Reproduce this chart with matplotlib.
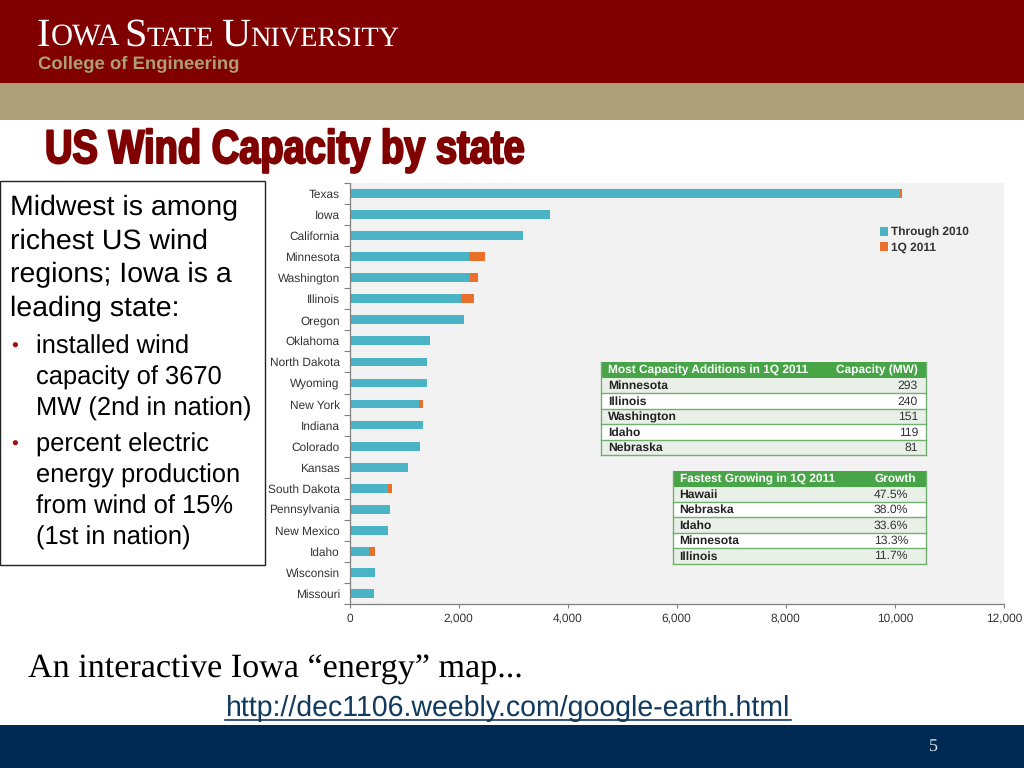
import matplotlib
matplotlib.use("Agg")
import matplotlib.pyplot as plt
import matplotlib.patheffects as pe
from matplotlib.patches import Rectangle
from matplotlib.transforms import Affine2D
import numpy as np

states = ["Texas", "Iowa", "California", "Minnesota", "Washington", "Illinois", "Oregon",
          "Oklahoma", "North Dakota", "Wyoming", "New York", "Indiana", "Colorado", "Kansas",
          "South Dakota", "Pennsylvania", "New Mexico", "Idaho", "Wisconsin", "Missouri"]
through_2010 = [10085, 3670, 3177, 2192, 2204, 2045, 2104, 1482, 1424, 1412,
                1274, 1339, 1299, 1074, 709, 748, 700, 353, 469, 457]
q1_2011 = [52, 0, 0, 293, 151, 240, 0, 0, 0, 0, 74, 0, 0, 0, 75, 0, 0, 119, 0, 0]

x_ticks = [0, 2000, 4000, 6000, 8000, 10000, 12000]

table1_head = ["Most Capacity Additions in 1Q 2011", "Capacity (MW)"]
table1_names = ["Minnesota", "Illinois", "Washington", "Idaho", "Nebraska"]
table1_vals = ["293", "240", "151", "119", "81"]

table2_head = ["Fastest Growing in 1Q 2011", "Growth"]
table2_names = ["Hawaii", "Nebraska", "Idaho", "Minnesota", "Illinois"]
table2_vals = ["47.5%", "38.0%", "33.6%", "13.3%", "11.7%"]

intro_lines = ["Midwest is among", "richest US wind", "regions; Iowa is a", "leading state:"]
bullet1_lines = ["installed wind", "capacity of 3670", "MW (2nd in nation)"]
bullet2_lines = ["percent electric", "energy production", "from wind of 15%", "(1st in nation)"]

RED = "#800000"
TAN = "#AD9F78"
NAVY = "#002A54"
TEAL = "#4BB3C6"
ORANGE = "#E8702A"
GREEN = "#47A447"
LINE = "#6FB26F"
ROW = "#E9F0E7"

plt.rcParams["font.family"] = ["Liberation Sans", "DejaVu Sans"]
plt.rcParams["text.hinting"] = "no_hinting"


class Squeeze(pe.AbstractPathEffect):
    # no condensed heavy font here, so squash the title sideways
    def __init__(self, sx, x0, lw, color):
        super().__init__()
        self.squeeze = Affine2D().translate(-x0, 0).scale(sx, 1).translate(x0, 0)
        self.lw = lw
        self.color = color

    def draw_path(self, renderer, gc, tpath, affine, rgbFace=None):
        gc0 = renderer.new_gc()
        gc0.copy_properties(gc)
        gc0.set_foreground(self.color)
        gc0.set_linewidth(self.lw)
        renderer.draw_path(gc0, tpath, affine + self.squeeze, rgbFace)
        gc0.restore()


fig = plt.figure(figsize=(10.24, 7.68), dpi=100, facecolor="white")

# slide furniture, in pixel coords
bg = fig.add_axes([0, 0, 1, 1], zorder=0)
bg.set_xlim(0, 1024)
bg.set_ylim(768, 0)
bg.axis("off")
bg.add_patch(Rectangle((0, 0), 1024, 83, fc=RED, ec="none"))
bg.add_patch(Rectangle((0, 83), 1024, 37, fc=TAN, ec="none"))
bg.add_patch(Rectangle((0, 725), 1024, 43, fc=NAVY, ec="none"))

# small caps wordmark
for x, s, size in [(37, "I", 29), (50.5, "OWA", 22), (124, "S", 29), (146.5, "TATE", 20.5),
                   (221, "U", 29), (250, "NIVERSITY", 20.3)]:
    bg.text(x, 45.5, s, color="white", fontsize=size, family="Liberation Serif", va="baseline")
bg.text(38, 68, "College of Engineering", color=TAN, fontsize=13.3, weight="bold", va="baseline")

bg.text(45, 163, "US Wind Capacity by state", color=RED, fontsize=34, weight="bold", va="baseline",
        path_effects=[Squeeze(0.806, 45, 1.5, RED)])

# left text box
bg.add_patch(Rectangle((0, 180.5), 265, 384.5, fc="white", ec="#222222", lw=1))
for y, s in zip([215, 249, 282, 316], intro_lines):
    bg.text(10, y, s, fontsize=20.5, color="black", va="baseline")
for y, s in zip([354, 385, 416], bullet1_lines):
    bg.text(36, y, s, fontsize=18.4, color="black", va="baseline")
for y, s in zip([452, 483, 514, 545], bullet2_lines):
    bg.text(36, y, s, fontsize=18.4, color="black", va="baseline")
for y in [352, 450]:
    bg.text(11, y, "•", fontsize=14, color="#A01010", va="baseline")

bg.text(28, 677, "An interactive Iowa “energy” map...", fontsize=24.6, family="Liberation Serif",
        color="black", va="baseline")
bg.text(225, 716, "http://dec1106.weebly.com/google-earth.html", fontsize=20.55, color="#123A5E",
        va="baseline")
bg.plot([225, 791], [720, 720], color="#123A5E", lw=1.2)
bg.text(933, 751, "5", fontsize=13, family="Liberation Serif", color="#DDE5EC", ha="center",
        va="baseline")

# chart
ax = fig.add_axes([349.5 / 1024, 1 - 604 / 768, 654.5 / 1024, 421 / 768], zorder=1)
ax.set_facecolor("#F2F2F2")
y = np.arange(len(states))
ax.barh(y, through_2010, height=0.42, color=TEAL, label="Through 2010")
ax.barh(y, q1_2011, left=through_2010, height=0.42, color=ORANGE, label="1Q 2011")
ax.set_xlim(0, 12000)
ax.set_ylim(len(states) - 0.5, -0.5)
ax.set_yticks(y)
ax.set_yticklabels(states, fontsize=8.6, color="#333333")
ax.set_yticks(np.arange(len(states) + 1) - 0.5, minor=True)
ax.tick_params(axis="y", which="major", length=0, pad=7)
ax.tick_params(axis="y", which="minor", length=4, color="#808080", width=0.8)
ax.set_xticks(x_ticks)
ax.set_xticklabels([f"{v:,}" for v in x_ticks], fontsize=8.6, color="#333333")
ax.tick_params(axis="x", length=3, color="#808080", width=0.8, pad=3.5)
for side in ["top", "right"]:
    ax.spines[side].set_visible(False)
for side in ["left", "bottom"]:
    ax.spines[side].set_color("#808080")
    ax.spines[side].set_linewidth(0.9)
leg = ax.legend(loc="upper left", bbox_to_anchor=(880 / 1024, 1 - 227 / 768),
                bbox_transform=fig.transFigure, frameon=False, fontsize=8.6, handlelength=0.7,
                handleheight=0.7, handletextpad=0.25, labelspacing=0.3, borderpad=0, borderaxespad=0)
for t in leg.get_texts():
    t.set_color("#333333")
    t.set_weight("bold")

top_ax = fig.add_axes([0, 0, 1, 1], zorder=2)
top_ax.set_xlim(0, 1024)
top_ax.set_ylim(768, 0)
top_ax.axis("off")


def draw_table(x0, x1, top, head_h, row_h, head, names, vals, head_x, val_x):
    top_ax.add_patch(Rectangle((x0, top), x1 - x0, head_h, fc=GREEN, ec="none"))
    top_ax.text(x0 + 7, top + head_h / 2 + 0.5, head[0], color="white", fontsize=8.6, weight="bold",
                va="center")
    top_ax.text(head_x, top + head_h / 2 + 0.5, head[1], color="white", fontsize=8.6, weight="bold",
                va="center", ha="right")
    for i, (name, val) in enumerate(zip(names, vals)):
        ry = top + head_h + i * row_h
        fc = ROW if i % 2 == 0 else "white"
        top_ax.add_patch(Rectangle((x0, ry), x1 - x0, row_h, fc=fc, ec="none"))
        top_ax.plot([x0, x1], [ry + row_h, ry + row_h], color=LINE, lw=1)
        top_ax.text(x0 + 7, ry + row_h / 2 + 0.5, name, color="#222222", fontsize=8.7, weight="bold",
                    va="center")
        top_ax.text(val_x, ry + row_h / 2 + 0.5, val, color="#333333", fontsize=8.7, va="center",
                    ha="right")
    bottom = top + head_h + len(names) * row_h
    top_ax.plot([x0, x0], [top, bottom], color=LINE, lw=1)
    top_ax.plot([x1, x1], [top, bottom], color=LINE, lw=1)


draw_table(601, 925.5, 362, 16, 15.4, table1_head, table1_names, table1_vals, 918, 918)
draw_table(672.5, 925.5, 471, 15.5, 15.4, table2_head, table2_names, table2_vals, 916, 908)

fig.savefig("out.png", dpi=100)
